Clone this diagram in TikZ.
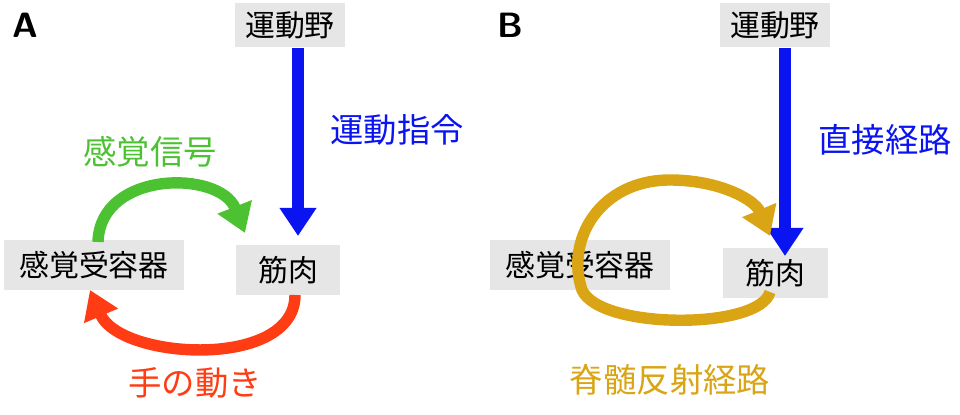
\documentclass[tikz,border=0pt]{standalone}
\usepackage{fontspec}
\setmainfont{Noto Sans CJK JP}
\usetikzlibrary{arrows.meta}
\definecolor{boxgray}{HTML}{E6E6E6}
\definecolor{sigblue}{HTML}{0A14F0}
\definecolor{siggreen}{HTML}{4CC232}
\definecolor{sigred}{HTML}{FF3C14}
\definecolor{sigorange}{HTML}{D9A514}
\tikzset{box/.style = {fill=boxgray, inner sep=0pt, font=\fontsize{17}{17}\selectfont},
         lbl/.style = {font=\fontsize{19}{19}\selectfont},
         fat/.style = {line width=6.5pt, -{Triangle[length=16pt,width=20pt]}}}
\begin{document}
\begin{tikzpicture}[x=0.02cm, y=-0.02cm]
      \useasboundingbox (0,0) rectangle (960,415);
      \node [font=\sffamily\bfseries\fontsize{20}{20}\selectfont] (la) at (25,25) {A};
      \node [font=\sffamily\bfseries\fontsize{20}{20}\selectfont] (lb) at (510,25) {B};
      % panel A
      \node [box, text width=2.2cm, align=center, minimum height=0.9cm] (motorA) at (290,25) {運動野};
      \node [box, text width=3.6cm, align=center, minimum height=1cm] (recA) at (94,265) {感覚受容器};
      \node [box, text width=2.1cm, align=center, minimum height=1cm] (muscA) at (288,270) {筋肉};
      \draw [fat, sigblue] (motorA.south -| 298,0) -- (298,236);
      \node [lbl, sigblue] (cmdA) at (397,130) {運動指令};
      \node [lbl, siggreen] (sigA) at (150,152) {感覚信号};
      \node [lbl, sigred] (moveA) at (195,383) {手の動き};
      \draw [fat, siggreen] (98,242) .. controls (100,170) and (220,170) .. (245,233);
      \draw [fat, sigred] (295,295) .. controls (295,370) and (120,360) .. (90,290);
      % panel B
      \node [box, text width=2.2cm, align=center, minimum height=0.9cm] (motorB) at (775,25) {運動野};
      \node [box, text width=3.6cm, align=center, minimum height=1cm] (recB) at (580,265) {感覚受容器};
      \node [box, text width=2.1cm, align=center, minimum height=1cm] (muscB) at (775,273) {筋肉};
      \draw [fat, sigblue] (motorB.south -| 785,0) -- (785,256);
      \node [lbl, sigblue] (directB) at (885,140) {直接経路};
      \node [lbl, sigorange] (reflexB) at (670,380) {脊髄反射経路};
      \draw [line width=6.5pt, sigorange] (770,292) .. controls (760,330) and (600,330) .. (582,290)
            .. controls (565,240) and (600,180) .. (670,180);
      \draw [fat, sigorange] (670,180) .. controls (720,180) and (755,200) .. (770,236);
\end{tikzpicture}
\end{document}
